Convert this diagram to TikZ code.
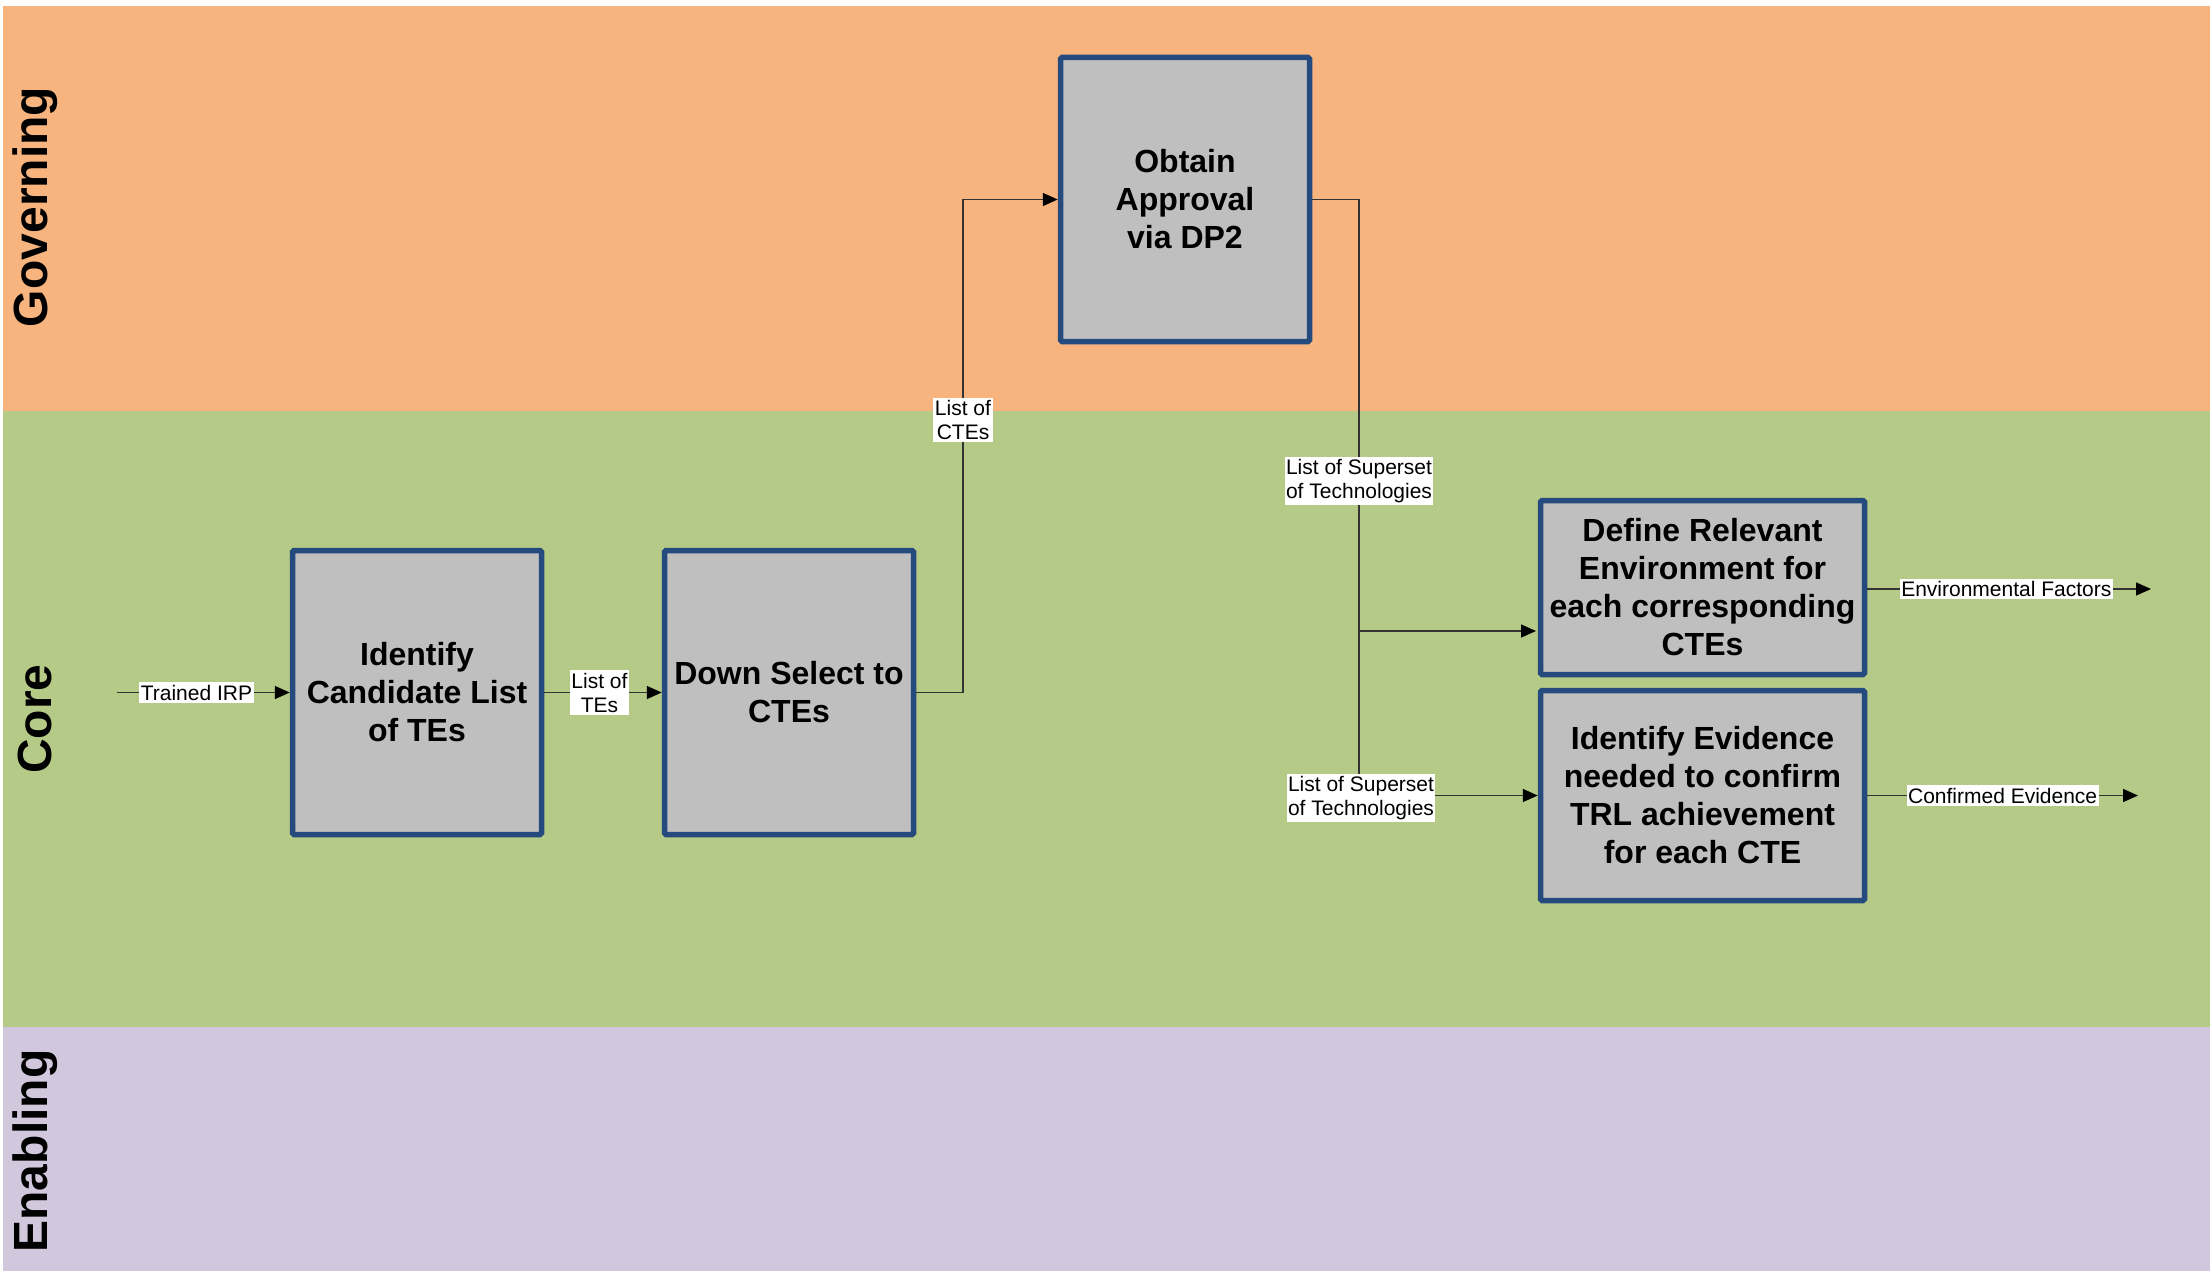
\documentclass[tikz,border=0pt]{standalone}
\usepackage{fontspec}
\setmainfont{Liberation Sans}
\usetikzlibrary{arrows.meta}
\definecolor{gov}{RGB}{247,180,126}
\definecolor{core}{RGB}{182,202,135}
\definecolor{enab}{RGB}{210,200,222}
\definecolor{boxfill}{RGB}{191,191,191}
\definecolor{boxline}{RGB}{36,74,126}
\begin{document}
\begin{tikzpicture}[x=1pt,y=-1pt,
  proc/.style={draw=boxline, line width=5.5pt, fill=boxfill, inner sep=0pt, align=center,
    font=\fontsize{32}{38}\selectfont\bfseries, rounded corners=1.5pt},
  lbl/.style={fill=white, inner xsep=1.5pt, inner ysep=2.5pt, align=center,
    font=\fontsize{21}{24}\selectfont},
  conn/.style={draw=black!80, line width=1.5pt},
  arr/.style={conn, -{Triangle[length=15pt,width=13pt,color=black]}},
  lanetitle/.style={rotate=90, font=\fontsize{48}{56}\selectfont\bfseries}]
\useasboundingbox (0,0) rectangle (2210,1271);
\fill[white] (0,0) rectangle (2210,1271);
\fill[gov] (3,6) rectangle (2210,411);
\fill[core] (3,411) rectangle (2210,1027);
\fill[enab] (3,1027) rectangle (2210,1271);
\node[lanetitle] (tgov) at (35,207) {Governing};
\node[lanetitle] (tcore) at (35,719) {Core};
\node[lanetitle] (tenab) at (35,1151) {Enabling};

\node[proc, minimum width=249pt, minimum height=284pt] (obtain) at (1185,199.5) {Obtain\\Approval\\via DP2};
\node[proc, minimum width=249pt, minimum height=284pt] (ident) at (417,692.5) {Identify\\Candidate List\\of TEs};
\node[proc, minimum width=249pt, minimum height=284pt] (down) at (789,692.5) {Down Select to\\CTEs};
\node[proc, minimum width=324pt, minimum height=174pt] (define) at (1702.5,587.5) {Define Relevant\\Environment for\\each corresponding\\CTEs};
\node[proc, minimum width=324pt, minimum height=210pt] (evid) at (1702.5,795.5) {Identify Evidence\\needed to confirm\\TRL achievement\\for each CTE};

\coordinate (start) at (117,692.5);
\coordinate (c1) at (963,199.5);
\coordinate (c2) at (1359,199.5);
\coordinate (dIn) at (1536,631);
\coordinate (eOut) at (2151,589);
\coordinate (cOut) at (2138,795.5);

\draw[arr] (start) -- node[lbl, pos=0.46] (ltrained) {Trained IRP} (ident.west);
\draw[arr] (ident.east) -- node[lbl, pos=0.47] (ltes) {List of\\TEs} (down.west);
\draw[arr] (down.east) -| (c1) -- (obtain.west);
\node[lbl] (lctes) at (963,420) {List of\\CTEs};
\draw[arr] (obtain.east) -- (c2) |- (dIn);
\draw[arr] (c2 |- dIn) |- (evid.west);
\node[lbl] (lsup1) at (1359,481) {List of Superset\\of Technologies};
\node[lbl] (lsup2) at (1361,798) {List of Superset\\of Technologies};
\draw[arr] (define.east |- eOut) -- node[lbl, pos=0.49] (lenv) {Environmental Factors} (eOut);
\draw[arr] (evid.east) -- node[lbl, pos=0.5] (lconf) {Confirmed Evidence} (cOut);
\end{tikzpicture}
\end{document}
